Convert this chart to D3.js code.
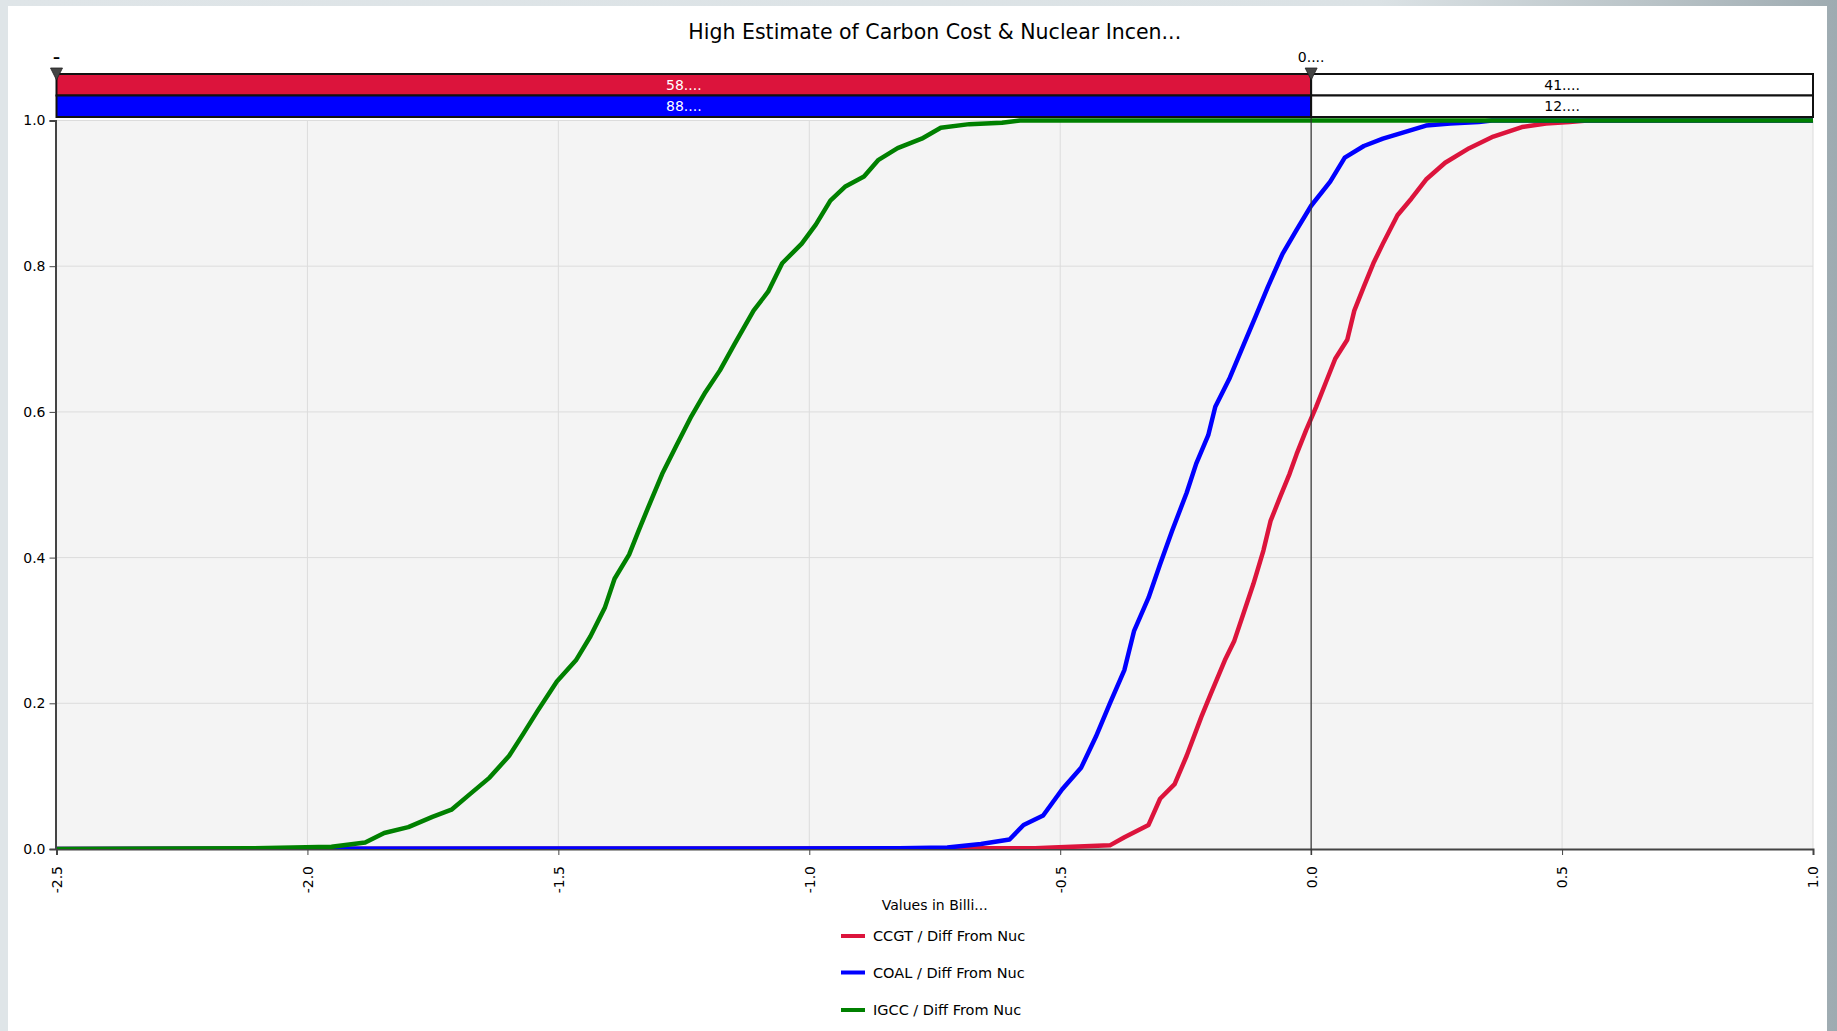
<!DOCTYPE html>
<html>
<head>
<meta charset="utf-8">
<script src="https://cdn.jsdelivr.net/npm/d3@7"></script>
<style>
  html, body { margin: 0; padding: 0; }
  body { width: 1837px; height: 1031px; overflow: hidden; background: #dce3e6; }
  svg { display: block; }
  .lbl { font-family: "DejaVu Sans", Verdana, sans-serif; }
  .tick text { font-family: "DejaVu Sans", Verdana, sans-serif; font-size: 14px; fill: #000; }
</style>
</head>
<body>
<div id="chart"></div>
<script>
const title = "High Estimate of Carbon Cost & Nuclear Incen...";
const xTitle = "Values in Billi...";
const seriesNames = ["CCGT / Diff From Nuc", "COAL / Diff From Nuc", "IGCC / Diff From Nuc"];
const seriesColors = ["#dc143c", "#0000ff", "#008000"];

// cumulative probability curves, x in billions
const ccgtX = [-2.5, -0.55, -0.515, -0.401, -0.372, -0.324, -0.301, -0.272, -0.248, -0.219, -0.2, -0.172, -0.153, -0.134, -0.115, -0.095, -0.081, -0.062, -0.043, -0.029, -0.01, 0.01, 0.029, 0.048, 0.072, 0.086, 0.105, 0.124, 0.143, 0.172, 0.2, 0.229, 0.267, 0.315, 0.363, 0.42, 0.468, 0.515, 0.55, 1.0];
const ccgtP = [0, 0.001, 0.002, 0.005, 0.016, 0.033, 0.069, 0.089, 0.128, 0.181, 0.213, 0.259, 0.286, 0.325, 0.364, 0.41, 0.45, 0.483, 0.515, 0.542, 0.575, 0.607, 0.64, 0.673, 0.699, 0.739, 0.772, 0.804, 0.831, 0.87, 0.893, 0.919, 0.942, 0.962, 0.978, 0.991, 0.996, 0.998, 1.0, 1.0];

const coalX = [-2.5, -0.821, -0.725, -0.658, -0.601, -0.573, -0.534, -0.496, -0.458, -0.429, -0.401, -0.372, -0.353, -0.324, -0.301, -0.277, -0.248, -0.229, -0.205, -0.191, -0.162, -0.134, -0.11, -0.086, -0.057, -0.029, 0.0, 0.038, 0.067, 0.105, 0.143, 0.191, 0.229, 0.277, 0.334, 0.36, 1.0];
const coalP = [0, 0.001, 0.002, 0.007, 0.013, 0.033, 0.046, 0.082, 0.112, 0.154, 0.2, 0.246, 0.299, 0.345, 0.391, 0.437, 0.489, 0.529, 0.568, 0.607, 0.647, 0.693, 0.732, 0.772, 0.817, 0.85, 0.883, 0.916, 0.949, 0.965, 0.975, 0.985, 0.993, 0.996, 0.998, 1.0, 1.0];

const igccX = [-2.5, -2.115, -1.952, -1.885, -1.847, -1.799, -1.751, -1.713, -1.675, -1.637, -1.598, -1.57, -1.541, -1.503, -1.465, -1.436, -1.407, -1.388, -1.359, -1.34, -1.321, -1.293, -1.264, -1.235, -1.207, -1.178, -1.149, -1.111, -1.082, -1.054, -1.015, -0.987, -0.958, -0.929, -0.891, -0.862, -0.824, -0.776, -0.738, -0.681, -0.616, -0.58, 1.0];
const igccP = [0, 0.001, 0.003, 0.009, 0.022, 0.03, 0.044, 0.054, 0.076, 0.098, 0.128, 0.158, 0.19, 0.23, 0.259, 0.292, 0.332, 0.371, 0.404, 0.437, 0.469, 0.515, 0.555, 0.594, 0.627, 0.657, 0.693, 0.739, 0.765, 0.804, 0.831, 0.857, 0.89, 0.909, 0.923, 0.946, 0.962, 0.975, 0.99, 0.995, 0.997, 1.0, 1.0];

const xTicks = [-2.5, -2.0, -1.5, -1.0, -0.5, 0.0, 0.5, 1.0];
const yTicks = [0.0, 0.2, 0.4, 0.6, 0.8, 1.0];

// delimiter bars above the plot
const markerValues = [-2.5, 0.0];
const markerLabels = ["\u2013", "0...."];
const barLeftLabels = ["58....", "88...."];
const barRightLabels = ["41....", "12...."];

const series = [
  { name: seriesNames[0], color: seriesColors[0], pts: d3.zip(ccgtX, ccgtP) },
  { name: seriesNames[1], color: seriesColors[1], pts: d3.zip(coalX, coalP) },
  { name: seriesNames[2], color: seriesColors[2], pts: d3.zip(igccX, igccP) },
];

const W = 1837, H = 1031;
const plot = { left: 56.5, right: 1813, top: 120.5, bottom: 849 };
const fmt = (d) => d.toFixed(1); // plain hyphen minus, like the original

const svg = d3.select("#chart").append("svg").attr("width", W).attr("height", H);

// photo background + white panel
const bg = svg.append("defs").append("linearGradient").attr("id", "bg").attr("x1", 0).attr("x2", 1);
bg.append("stop").attr("offset", "0").attr("stop-color", "#dfe5e8");
bg.append("stop").attr("offset", "0.75").attr("stop-color", "#dbe2e5");
bg.append("stop").attr("offset", "0.9").attr("stop-color", "#b9c3c7");
bg.append("stop").attr("offset", "1").attr("stop-color", "#9eabb1");
svg.append("rect").attr("width", W).attr("height", H).attr("fill", "url(#bg)");
svg.append("rect").attr("x", 8).attr("y", 6).attr("width", 1819).attr("height", H - 6).attr("fill", "#ffffff");

const x = d3.scaleLinear().domain([-2.5, 1.0]).range([plot.left, plot.right]);
const y = d3.scaleLinear().domain([0, 1]).range([plot.bottom, plot.top]);

svg.append("rect")
  .attr("x", plot.left).attr("y", plot.top)
  .attr("width", plot.right - plot.left).attr("height", plot.bottom - plot.top)
  .attr("fill", "#f4f4f4");

// grid
svg.append("g").selectAll("line").data(xTicks.slice(1, -1)).join("line")
  .attr("x1", (d) => x(d)).attr("x2", (d) => x(d))
  .attr("y1", plot.top).attr("y2", plot.bottom)
  .attr("stroke", "#dcdcdc").attr("stroke-width", 1);
svg.append("g").selectAll("line").data(yTicks.slice(1)).join("line")
  .attr("x1", plot.left).attr("x2", plot.right)
  .attr("y1", (d) => y(d)).attr("y2", (d) => y(d))
  .attr("stroke", "#dcdcdc").attr("stroke-width", 1);
svg.append("line")
  .attr("x1", plot.right).attr("x2", plot.right).attr("y1", plot.top).attr("y2", plot.bottom)
  .attr("stroke", "#dcdcdc");

// axes
const yAxis = svg.append("g").attr("transform", `translate(${plot.left - 1},0)`)
  .call(d3.axisLeft(y).tickValues(yTicks).tickFormat(fmt).tickSize(6).tickPadding(4));
yAxis.select(".domain").attr("stroke", "#444").attr("stroke-width", 2);
yAxis.selectAll(".tick line").attr("stroke", "#444");

const xAxis = svg.append("g").attr("transform", `translate(0,${plot.bottom})`)
  .call(d3.axisBottom(x).tickValues(xTicks).tickFormat(fmt).tickSize(6));
xAxis.select(".domain").attr("stroke", "#444").attr("stroke-width", 2);
xAxis.selectAll(".tick line").attr("stroke", "#444");
xAxis.selectAll(".tick text")
  .attr("transform", "rotate(-90)")
  .attr("text-anchor", "end")
  .attr("x", -17).attr("y", 0).attr("dy", "0.35em");

// lines
svg.append("clipPath").attr("id", "clip").append("rect")
  .attr("x", plot.left).attr("y", plot.top - 3)
  .attr("width", plot.right - plot.left).attr("height", plot.bottom - plot.top + 3);
const line = d3.line().x((d) => x(d[0])).y((d) => y(d[1])).curve(d3.curveLinear);
svg.append("g").attr("clip-path", "url(#clip)")
  .selectAll("path").data(series).join("path")
  .attr("d", (d) => line(d.pts))
  .attr("fill", "none")
  .attr("stroke", (d) => d.color)
  .attr("stroke-width", 4.5)
  .attr("stroke-linejoin", "round");

// delimiter line at 0
svg.append("line")
  .attr("x1", x(markerValues[1])).attr("x2", x(markerValues[1]))
  .attr("y1", 78).attr("y2", plot.bottom + 6)
  .attr("stroke", "#333").attr("stroke-width", 1.2);

// stacked bars
const barTop = 74, barH = 21.5;
const bars = svg.append("g");
[0, 1].forEach((i) => {
  const yy = barTop + i * barH;
  bars.append("rect")
    .attr("x", x(-2.5)).attr("y", yy).attr("width", x(0) - x(-2.5)).attr("height", barH)
    .attr("fill", seriesColors[i]).attr("stroke", "#111").attr("stroke-width", 2);
  bars.append("rect")
    .attr("x", x(0)).attr("y", yy).attr("width", x(1.0) - x(0)).attr("height", barH)
    .attr("fill", "#fff").attr("stroke", "#111").attr("stroke-width", 2);
  bars.append("text").attr("class", "lbl")
    .attr("x", (x(-2.5) + x(0)) / 2).attr("y", yy + barH / 2).attr("dy", "0.35em")
    .attr("text-anchor", "middle").attr("font-size", 14).attr("fill", "#fff")
    .text(barLeftLabels[i]);
  bars.append("text").attr("class", "lbl")
    .attr("x", (x(0) + x(1.0)) / 2).attr("y", yy + barH / 2).attr("dy", "0.35em")
    .attr("text-anchor", "middle").attr("font-size", 14).attr("fill", "#000")
    .text(barRightLabels[i]);
});

// markers
const markers = svg.append("g").selectAll("g").data(markerValues).join("g")
  .attr("transform", (d) => `translate(${x(d)},0)`);
markers.append("path").attr("d", "M-6,68 L6,68 L0,80 Z").attr("fill", "#444").attr("stroke", "#222").attr("stroke-width", 0.8);
markers.append("text").attr("class", "lbl")
  .attr("y", 62).attr("text-anchor", "middle").attr("font-size", 14).attr("font-weight", (d, i) => (i === 0 ? "bold" : "normal")).attr("fill", "#000")
  .text((d, i) => markerLabels[i]);

// title
svg.append("text").attr("class", "lbl")
  .attr("x", (plot.left + plot.right) / 2).attr("y", 39)
  .attr("text-anchor", "middle").attr("font-size", 20.5).attr("fill", "#000")
  .text(title);

// x title
svg.append("text").attr("class", "lbl")
  .attr("x", (plot.left + plot.right) / 2).attr("y", 910)
  .attr("text-anchor", "middle").attr("font-size", 14).attr("fill", "#000")
  .text(xTitle);

// legend
const legendY = [936, 972.5, 1010];
const legend = svg.append("g").selectAll("g").data(series).join("g")
  .attr("transform", (d, i) => `translate(841,${legendY[i]})`);
legend.append("line").attr("x1", 0).attr("x2", 24).attr("y1", 0).attr("y2", 0)
  .attr("stroke", (d) => d.color).attr("stroke-width", 4);
legend.append("text").attr("class", "lbl")
  .attr("x", 32).attr("y", 0).attr("dy", "0.35em").attr("font-size", 14.5).attr("fill", "#000")
  .text((d) => d.name);
</script>
</body>
</html>
